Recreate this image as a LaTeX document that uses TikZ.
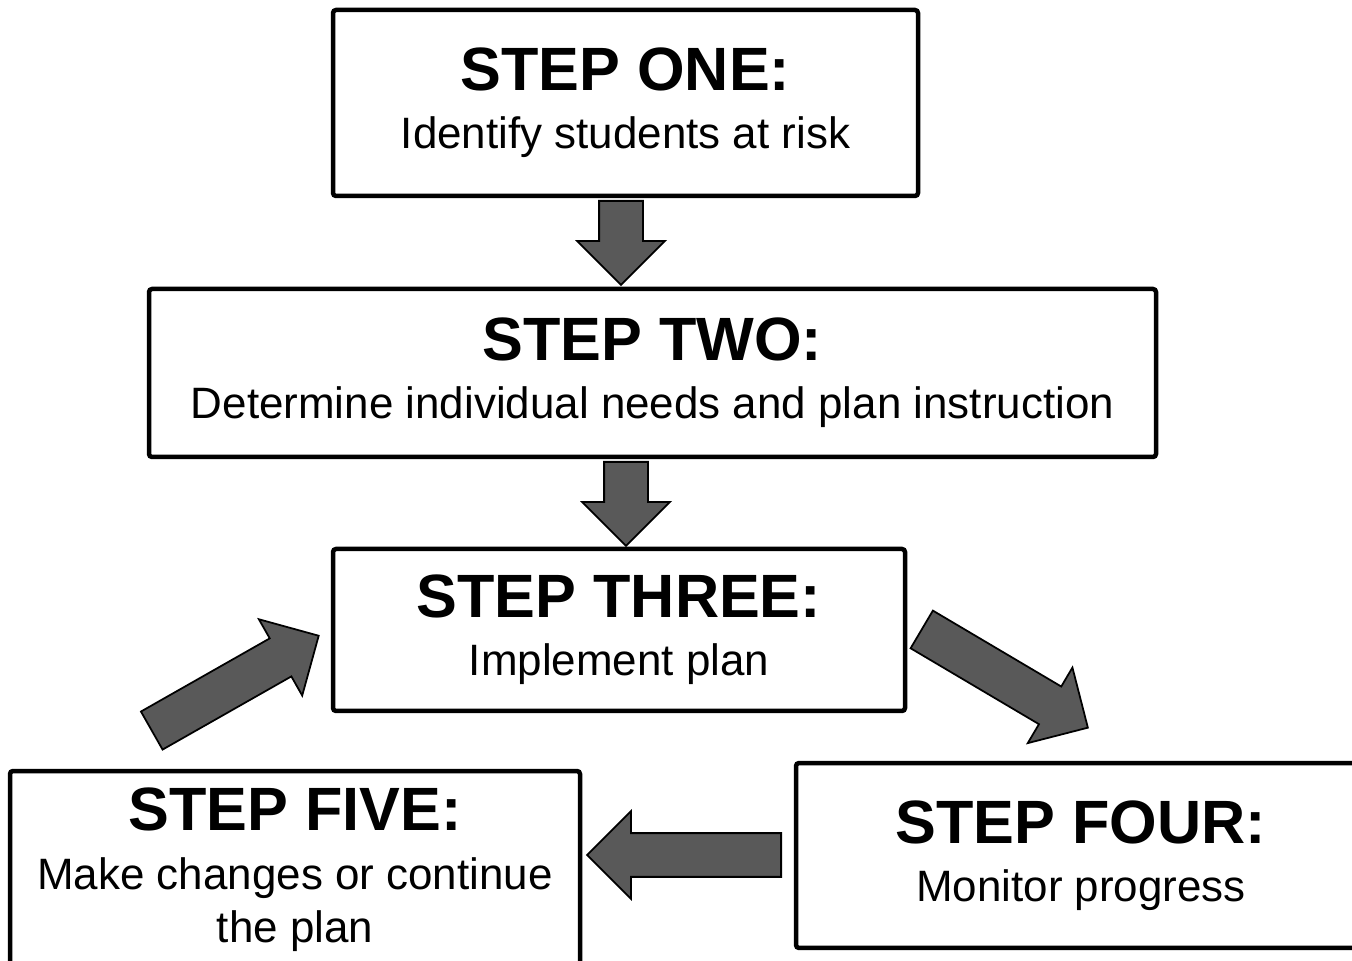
\documentclass[tikz,border=0pt]{standalone}
\usepackage{fontspec}
\setmainfont{Liberation Sans}
\usetikzlibrary{shapes.arrows}
\definecolor{ArrowGray}{HTML}{595959}
\newcommand{\steptitle}[1]{{\fontsize{17.4}{17}\selectfont\bfseries #1}}

\begin{document}
\begin{tikzpicture}[
      x=0.1mm, y=-0.1mm,
      every node/.style={align=center, font=\fontsize{12.5}{15}\selectfont},
      stepbox/.style={draw, line width=0.45mm, rounded corners=0.3mm, inner sep=0pt},
      blockarrow/.style={single arrow, anchor=tail, draw=black, line width=0.5pt, fill=ArrowGray, inner xsep=0pt, inner ysep=2.1mm, single arrow head extend=2.2mm}
    ]
      \clip (0,0) rectangle (1352,961);
      % Step boxes
      \node[stepbox, minimum width=58.5mm, minimum height=18.6mm] (one) at (625.5,103) {\steptitle{STEP ONE:}\\[1.5pt]Identify students at risk};
      \node[stepbox, minimum width=100.7mm, minimum height=16.8mm] (two) at (652.5,373) {\steptitle{STEP TWO:}\\[1.5pt]Determine individual needs and plan instruction};
      \node[stepbox, minimum width=57.2mm, minimum height=16.2mm] (three) at (619,630) {\steptitle{STEP THREE:}\\[1.5pt]Implement plan};
      \node[stepbox, minimum width=57mm, minimum height=18.5mm] (four) at (1081,855.5) {\steptitle{STEP FOUR:}\\[1.5pt]Monitor progress};
      \node[stepbox, minimum width=57mm, minimum height=19.7mm] (five) at (295,869.5) {\steptitle{STEP FIVE:}\\[2pt]Make changes or continue\\the plan};
      % Block arrows (placed by their tails)
      \node[blockarrow, minimum height=8.4mm, rotate=-90] (onetwo) at (621,200) {};
      \node[blockarrow, minimum height=8.4mm, rotate=-90] (twothree) at (626,461) {};
      \node[blockarrow, minimum height=19.3mm, rotate=-30.6] (threefour) at (921,629) {};
      \node[blockarrow, minimum height=19.4mm, rotate=180] (fourfive) at (782,855) {};
      \node[blockarrow, minimum height=19.2mm, rotate=29.6] (fivethree) at (151,731) {};
    \end{tikzpicture}
\end{document}
